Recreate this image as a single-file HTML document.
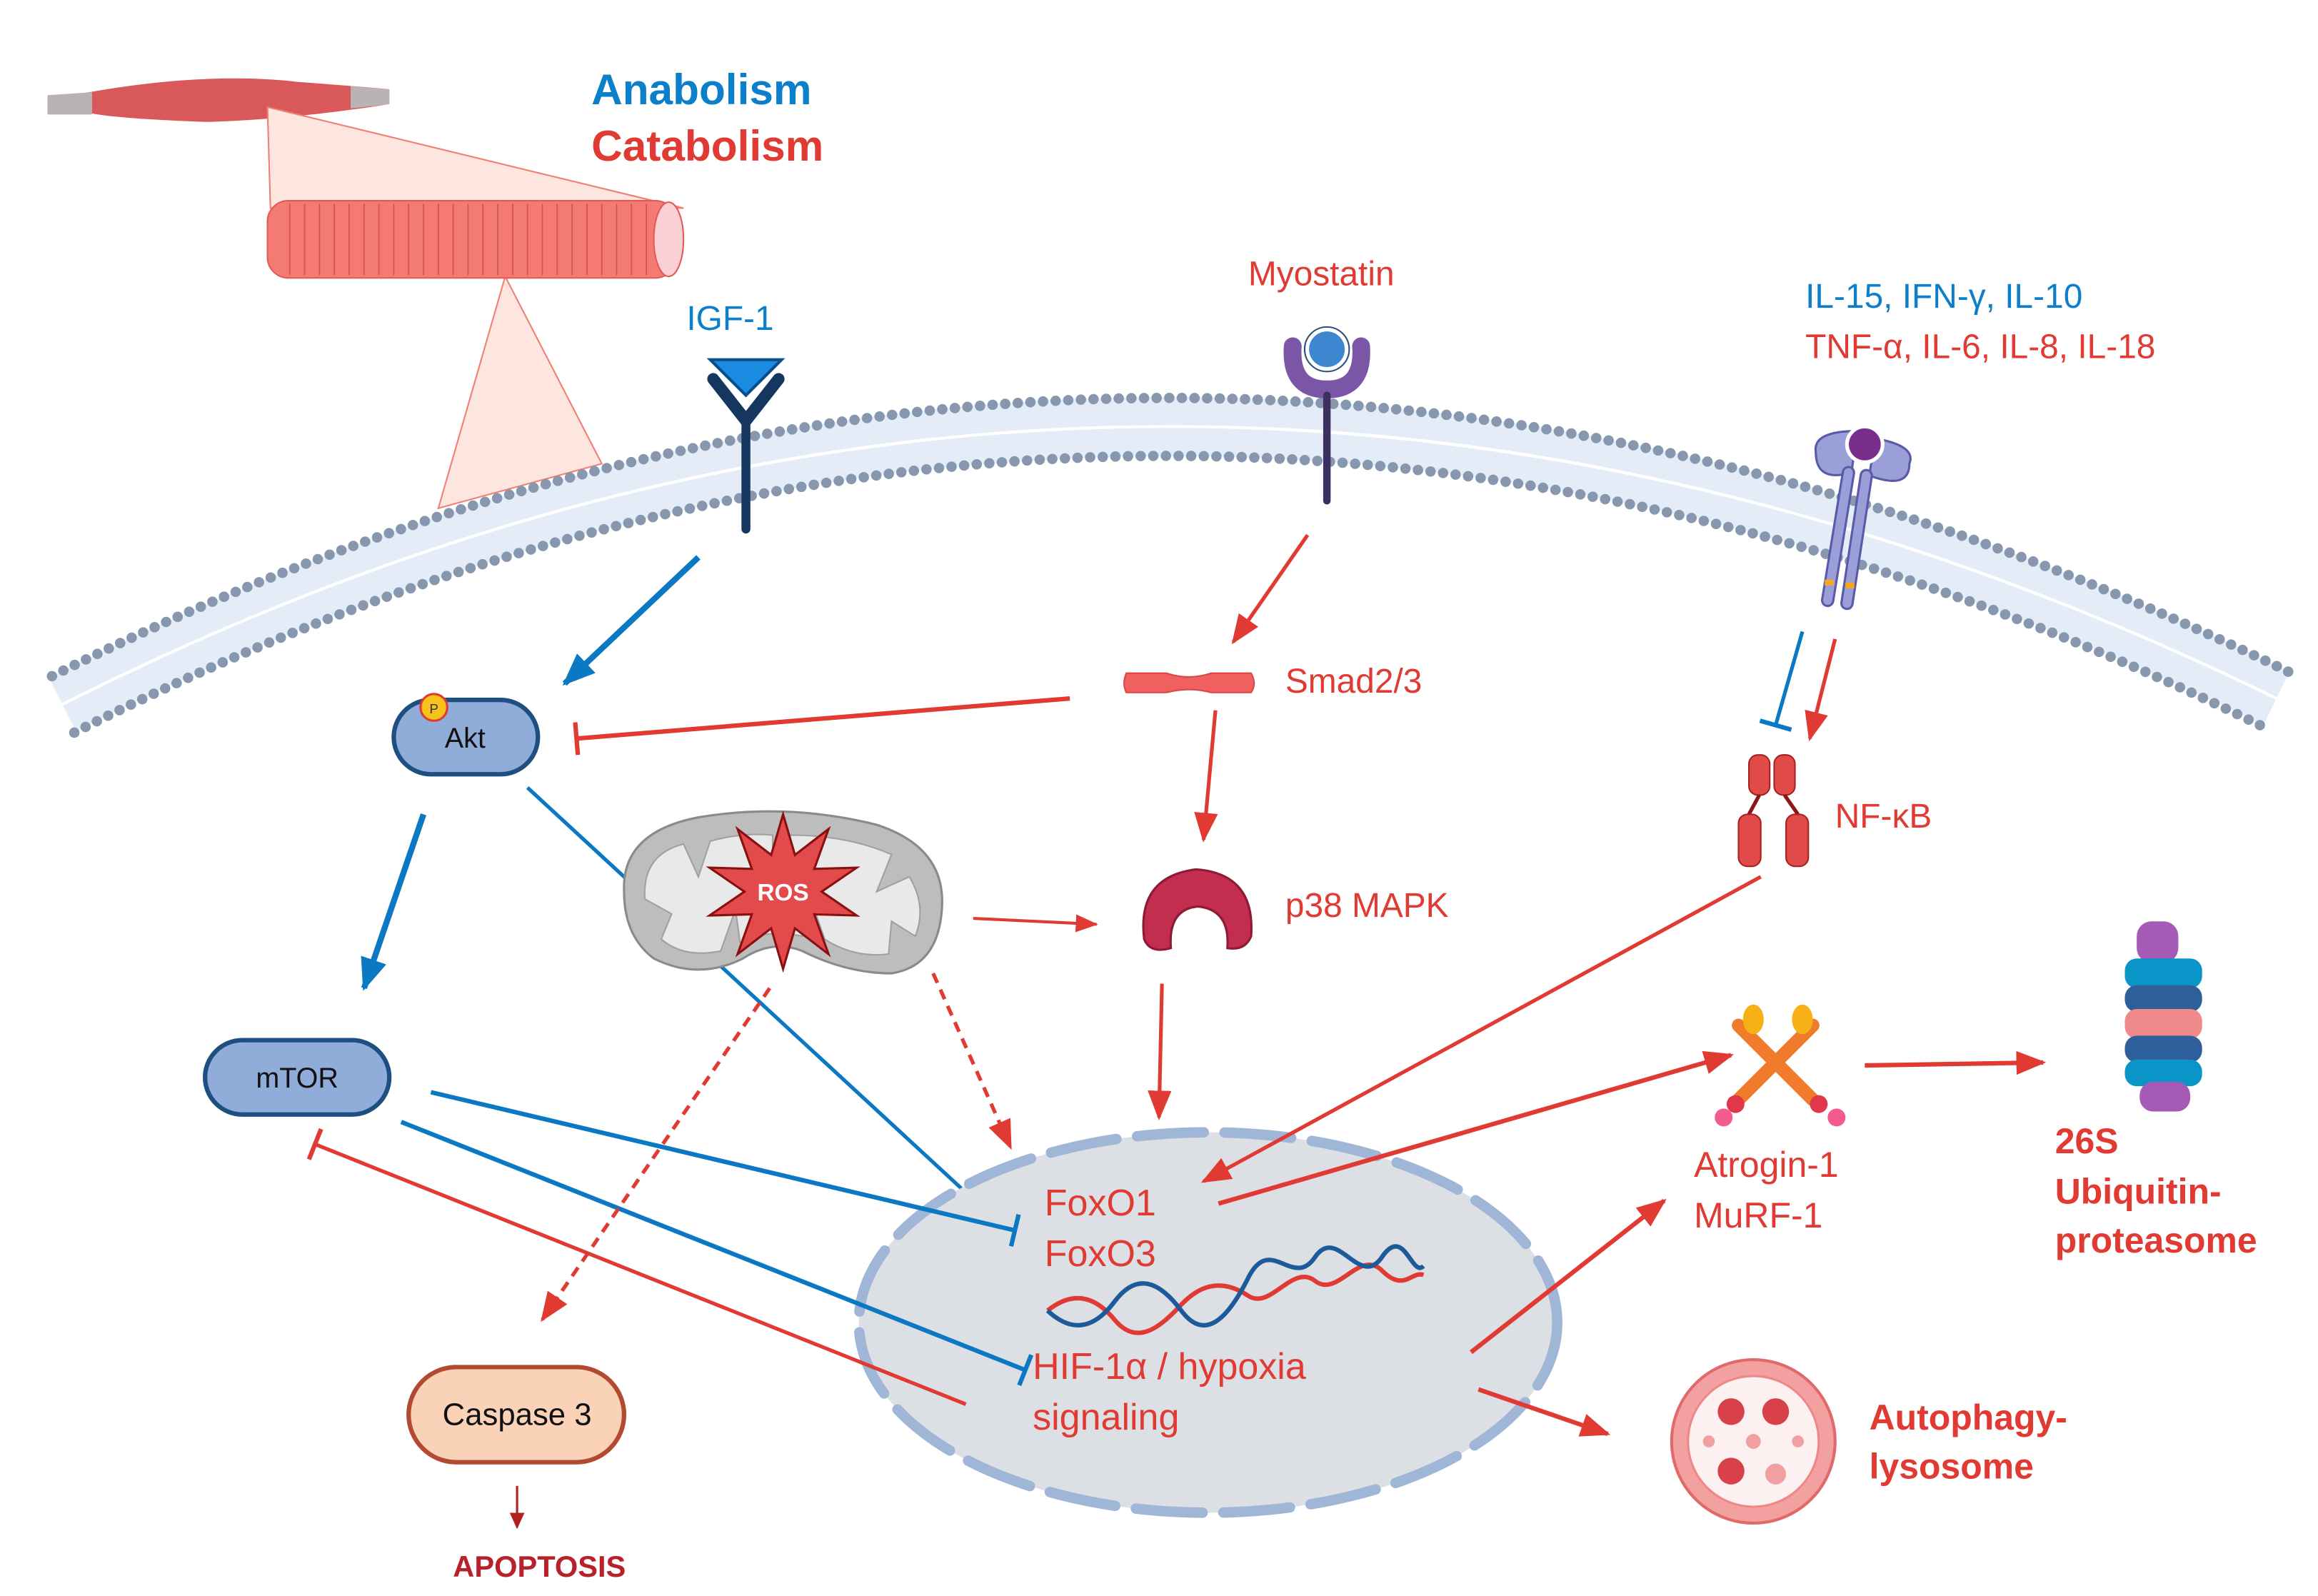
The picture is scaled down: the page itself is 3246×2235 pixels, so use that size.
<!DOCTYPE html>
<html><head><meta charset="utf-8"><style>
html,body{margin:0;padding:0;background:#fff}
svg{display:block}
text{font-family:"Liberation Sans",sans-serif}
</style></head><body>
<svg width="3246" height="2235" viewBox="0 0 1560 1074" xmlns="http://www.w3.org/2000/svg">
<defs>
<marker id="ar" markerUnits="userSpaceOnUse" markerWidth="22" markerHeight="20" refX="18" refY="10" orient="auto"><path d="M0,2 L20,10 L0,18 z" fill="#e03a33"/></marker>
<marker id="ars" markerUnits="userSpaceOnUse" markerWidth="16" markerHeight="14" refX="14" refY="7" orient="auto"><path d="M0,1 L15,7 L0,13 z" fill="#e03a33"/></marker>
<marker id="ab" markerUnits="userSpaceOnUse" markerWidth="24" markerHeight="22" refX="20" refY="11" orient="auto"><path d="M0,2 L22,11 L0,20 z" fill="#0a78c2"/></marker>
<marker id="tb" markerUnits="userSpaceOnUse" markerWidth="6" markerHeight="24" refX="3" refY="12" orient="auto"><path d="M3,1 L3,23" stroke="#0a78c2" stroke-width="3"/></marker>
<marker id="tr" markerUnits="userSpaceOnUse" markerWidth="6" markerHeight="24" refX="3" refY="12" orient="auto"><path d="M3,1 L3,23" stroke="#e03a33" stroke-width="3"/></marker>
<marker id="ad" markerUnits="userSpaceOnUse" markerWidth="12" markerHeight="12" refX="10" refY="6" orient="auto"><path d="M0,1 L11,6 L0,11 z" fill="#b02020"/></marker>
</defs>

<!-- muscle -->
<path d="M32,66 L60,62 Q140,48 200,55 Q240,58 262,60 L262,70 Q200,80 140,82 Q80,80 60,76 L32,76 z" fill="#d9585a"/>
<path d="M32,64 L62,62 L62,77 L32,77 z" fill="#b9b3b3"/>
<path d="M236,58 L262,60 L262,70 L236,73 z" fill="#b9b3b3"/>
<path d="M180,72 L460,140 L182,140 z" fill="#fde5e0" stroke="#f07e72" stroke-width="1"/>
<path d="M340,186 L295,342 L405,312 z" fill="#fde5e0" stroke="#f07e72" stroke-width="1"/>
<rect x="180" y="135" width="275" height="52" rx="14" fill="#f47a74" stroke="#e05a56"/>
<g stroke="#d8514d" stroke-width="0.8">
<path d="M195,137v48M205,137v48M215,137v48M225,137v48M235,137v48M245,137v48M255,137v48M265,137v48M275,137v48M285,137v48M295,137v48M305,137v48M315,137v48M325,137v48M335,137v48M345,137v48M355,137v48M365,137v48M375,137v48M385,137v48M395,137v48M405,137v48M415,137v48M425,137v48M435,137v48"/>
</g>
<ellipse cx="450" cy="161" rx="10" ry="25" fill="#fbd0d5" stroke="#e05a56"/>

<text x="398" y="70" font-size="29" font-weight="bold" fill="#0b7fc9">Anabolism</text>
<text x="398" y="108" font-size="29" font-weight="bold" fill="#e03a33">Catabolism</text>

<!-- membrane -->
<path d="M42,474 Q780,102 1532,470" fill="none" stroke="#e4ecf7" stroke-width="40"/>
<path d="M42,474 Q780,102 1532,470" fill="none" stroke="#fff" stroke-width="2"/>
<path d="M35,455 Q780,82 1540,452" fill="none" stroke="#8797ad" stroke-width="7" stroke-linecap="round" stroke-dasharray="0 8.5"/>
<path d="M50,493 Q780,122 1525,490" fill="none" stroke="#8797ad" stroke-width="7" stroke-linecap="round" stroke-dasharray="0 8.5"/>

<!-- IGF-1 receptor -->
<text x="462" y="222" font-size="23" fill="#0b7fc9">IGF-1</text>
<path d="M478,242 L526,242 L502,266 z" fill="#1a8be0" stroke="#0a4f8a" stroke-width="2"/>
<path d="M480,255 L502,283 L524,255" fill="none" stroke="#15375f" stroke-width="8" stroke-linecap="round"/>
<path d="M502,280 L502,356" stroke="#15375f" stroke-width="6" stroke-linecap="round"/>

<!-- Myostatin receptor -->
<text x="840" y="192" font-size="23" fill="#e03a33">Myostatin</text>
<path d="M870,233 Q868,262 893,262 Q918,262 916,233" fill="none" stroke="#7b56a6" stroke-width="12" stroke-linecap="round"/>
<circle cx="893" cy="235" r="13" fill="#3d86d0" stroke="#fff" stroke-width="2"/>
<circle cx="893" cy="235" r="15" fill="none" stroke="#2b4f7a" stroke-width="1"/>
<path d="M893,266 L893,337" stroke="#3b3060" stroke-width="5" stroke-linecap="round"/>

<!-- cytokine receptor -->
<text x="1215" y="207" font-size="23" fill="#0b7fc9">IL-15, IFN-γ, IL-10</text>
<text x="1215" y="241" font-size="23" fill="#e03a33">TNF-α, IL-6, IL-8, IL-18</text>
<path d="M1222,304 Q1220,290 1250,290 L1246,318 Q1222,325 1222,304 z" fill="#9b9fd8" stroke="#5a5aa8" stroke-width="1.5"/>
<path d="M1285,312 Q1290,300 1262,295 L1258,320 Q1285,330 1285,312 z" fill="#9b9fd8" stroke="#5a5aa8" stroke-width="1.5"/>
<path d="M1244,318 L1230,404" stroke="#5a5aa8" stroke-width="9" stroke-linecap="round"/>
<path d="M1244,318 L1230,404" stroke="#9b9fd8" stroke-width="6" stroke-linecap="round"/>
<path d="M1256,320 L1243,406" stroke="#5a5aa8" stroke-width="9" stroke-linecap="round"/>
<path d="M1256,320 L1243,406" stroke="#9b9fd8" stroke-width="6" stroke-linecap="round"/>
<rect x="1228" y="390" width="6" height="4" fill="#f5a623"/><rect x="1242" y="392" width="6" height="4" fill="#f5a623"/>
<circle cx="1255" cy="299" r="12" fill="#7a2e8c" stroke="#fff" stroke-width="2.5"/>

<!-- arrows top -->
<line x1="470" y1="375" x2="380" y2="460" stroke="#0a78c2" stroke-width="4" marker-end="url(#ab)"/>
<line x1="880" y1="360" x2="830" y2="432" stroke="#e03a33" stroke-width="2.5" marker-end="url(#ar)"/>
<line x1="720" y1="470" x2="388" y2="497" stroke="#e03a33" stroke-width="3" marker-end="url(#tr)"/>
<line x1="1213" y1="425" x2="1195" y2="488" stroke="#0a78c2" stroke-width="2.5" marker-end="url(#tb)"/>
<line x1="1235" y1="430" x2="1218" y2="497" stroke="#e03a33" stroke-width="2.5" marker-end="url(#ar)"/>

<!-- Akt -->
<rect x="265" y="471" width="97" height="50" rx="25" fill="#8fadd8" stroke="#1e4f80" stroke-width="3"/>
<text x="313" y="503" font-size="19" text-anchor="middle" fill="#111">Akt</text>
<circle cx="292" cy="476" r="9" fill="#f8c21c" stroke="#e03a33" stroke-width="1.5"/>
<text x="292" y="480" font-size="9" text-anchor="middle" fill="#333">P</text>

<!-- Smad -->
<path d="M758,453 Q755,460 758,466 L785,466 Q800,462 815,466 L842,466 Q846,460 842,453 L815,453 Q800,458 785,453 z" fill="#f0605e" stroke="#d44"/>
<text x="865" y="466" font-size="23" fill="#e03a33">Smad2/3</text>
<line x1="818" y1="478" x2="810" y2="565" stroke="#e03a33" stroke-width="2.5" marker-end="url(#ar)"/>

<!-- NF-kB -->
<rect x="1177" y="508" width="14" height="27" rx="6" fill="#e04a48" stroke="#a82020"/>
<rect x="1194" y="508" width="14" height="27" rx="6" fill="#e04a48" stroke="#a82020"/>
<path d="M1184,535 L1177,548 M1201,535 L1210,548" stroke="#8a1818" stroke-width="2.5"/>
<rect x="1170" y="548" width="15" height="35" rx="6" fill="#e04a48" stroke="#a82020"/>
<rect x="1202" y="548" width="15" height="35" rx="6" fill="#e04a48" stroke="#a82020"/>
<text x="1235" y="557" font-size="23" fill="#e03a33">NF-κB</text>

<!-- Akt to FoxO (behind mito) -->
<line x1="355" y1="530" x2="683" y2="833" stroke="#0a78c2" stroke-width="2.5" marker-end="url(#tb)"/>

<!-- mito -->
<path d="M420,600 Q418,560 470,550 Q530,540 590,555 Q636,570 634,610 Q632,650 600,655 Q570,655 540,640 Q520,632 500,645 Q470,660 440,645 Q420,630 420,600 z" fill="#bdbdbd" stroke="#8a8a8a" stroke-width="1.5"/>
<path d="M434,605 Q432,575 460,568 L470,590 L478,566 Q500,560 520,562 L520,590 L532,562 Q570,562 600,575 L590,600 L612,590 Q624,610 616,630 L600,620 L598,642 Q575,645 555,632 L548,612 L540,630 Q515,625 498,634 L495,612 L485,640 Q460,645 445,632 L452,615 z" fill="#e9e9e9" stroke="#a0a0a0" stroke-width="1"/>
<polygon points="527,548 535,575.3 557.6,557.9 548,584.7 576.5,583.9 553,600 576.5,616.1 548,615.3 557.6,642.1 535,624.7 527,652 519,624.7 496.4,642.1 506,615.3 477.5,616.1 501,600 477.5,583.9 506,584.7 496.4,557.9 519,575.3" fill="#e24a4c" stroke="#8a1010" stroke-width="1.5"/>
<text x="527" y="606" font-size="16" font-weight="bold" text-anchor="middle" fill="#fff">ROS</text>

<line x1="655" y1="618" x2="738" y2="622" stroke="#e03a33" stroke-width="2" marker-end="url(#ars)"/>

<!-- p38 -->
<path d="M770,632 Q765,590 805,585 Q845,588 842,630 Q838,640 826,638 Q828,612 806,610 Q786,612 788,638 Q774,642 770,632 z" fill="#c32d4e" stroke="#8e1a35" stroke-width="1.5"/>
<text x="865" y="617" font-size="23" fill="#e03a33">p38 MAPK</text>
<line x1="782" y1="662" x2="780" y2="752" stroke="#e03a33" stroke-width="2.5" marker-end="url(#ar)"/>

<!-- mTOR -->
<rect x="138" y="700" width="124" height="50" rx="25" fill="#8fadd8" stroke="#1e4f80" stroke-width="3"/>
<text x="200" y="732" font-size="19" text-anchor="middle" fill="#111">mTOR</text>
<line x1="285" y1="548" x2="245" y2="665" stroke="#0a78c2" stroke-width="4" marker-end="url(#ab)"/>

<!-- nucleus -->
<ellipse cx="813" cy="890" rx="235" ry="128" fill="#dcdfe4"/>
<ellipse cx="813" cy="890" rx="235" ry="128" fill="none" stroke="#9fb6d6" stroke-width="7" stroke-linecap="round" stroke-dasharray="45 14"/>

<!-- lines to nucleus -->
<line x1="290" y1="735" x2="683" y2="828" stroke="#0a78c2" stroke-width="3" marker-end="url(#tb)"/>
<line x1="270" y1="755" x2="690" y2="922" stroke="#0a78c2" stroke-width="3" marker-end="url(#tb)"/>
<line x1="650" y1="945" x2="212" y2="770" stroke="#e03a33" stroke-width="2.5" marker-end="url(#tr)"/>
<line x1="518" y1="665" x2="365" y2="888" stroke="#e03a33" stroke-width="2.5" stroke-dasharray="7 5" marker-end="url(#ar)"/>
<line x1="628" y1="655" x2="680" y2="772" stroke="#e03a33" stroke-width="2.5" stroke-dasharray="7 5" marker-end="url(#ar)"/>
<line x1="1185" y1="590" x2="810" y2="795" stroke="#e03a33" stroke-width="2.5" marker-end="url(#ar)"/>
<line x1="820" y1="810" x2="1165" y2="710" stroke="#e03a33" stroke-width="3" marker-end="url(#ar)"/>
<line x1="990" y1="910" x2="1120" y2="808" stroke="#e03a33" stroke-width="3" marker-end="url(#ar)"/>
<line x1="995" y1="935" x2="1082" y2="965" stroke="#e03a33" stroke-width="3" marker-end="url(#ar)"/>
<line x1="1255" y1="717" x2="1375" y2="715" stroke="#e03a33" stroke-width="3" marker-end="url(#ar)"/>

<text x="703" y="818" font-size="25" fill="#e03a33">FoxO1</text>
<text x="703" y="852" font-size="25" fill="#e03a33">FoxO3</text>
<!-- DNA helix -->
<g fill="none" stroke-width="3" transform="translate(0,10)">
<path d="M705,872 C720,860 735,860 750,878 S780,884 795,868 S825,852 840,862 S870,840 885,852 S915,830 930,845 S950,845 958,848" stroke="#e03a33"/>
<path d="M705,872 C720,886 735,886 750,866 S780,852 795,872 S825,880 840,850 S870,858 885,836 S915,858 930,836 S950,850 958,842" stroke="#1d5a9a"/>
</g>
<text x="695" y="928" font-size="25" fill="#e03a33">HIF-1α / hypoxia</text>
<text x="695" y="962" font-size="25" fill="#e03a33">signaling</text>

<!-- caspase -->
<rect x="275" y="920" width="145" height="64" rx="32" fill="#f9d2b8" stroke="#b24a32" stroke-width="3"/>
<text x="348" y="959" font-size="21" text-anchor="middle" fill="#111">Caspase 3</text>
<line x1="348" y1="1000" x2="348" y2="1028" stroke="#b02020" stroke-width="1.5" marker-end="url(#ad)"/>
<text x="363" y="1061" font-size="20" font-weight="bold" text-anchor="middle" fill="#b8202a">APOPTOSIS</text>

<!-- atrogin -->
<path d="M1170,690 L1220,740 M1220,690 L1170,740" stroke="#f07b2a" stroke-width="9" stroke-linecap="round"/>
<ellipse cx="1180" cy="686" rx="7" ry="10" fill="#f7b117"/><ellipse cx="1213" cy="686" rx="7" ry="10" fill="#f7b117"/>
<circle cx="1168" cy="743" r="6" fill="#e0384a"/><circle cx="1224" cy="743" r="6" fill="#e0384a"/>
<circle cx="1160" cy="752" r="6" fill="#f25a90"/><circle cx="1236" cy="752" r="6" fill="#f25a90"/>
<text x="1140" y="792" font-size="24" fill="#e03a33">Atrogin-1</text>
<text x="1140" y="826" font-size="24" fill="#e03a33">MuRF-1</text>

<!-- proteasome -->
<g>
<rect x="1438" y="620" width="28" height="28" rx="10" fill="#a55bb5"/>
<rect x="1430" y="645" width="52" height="20" rx="8" fill="#0a95c8"/>
<rect x="1430" y="663" width="52" height="18" rx="8" fill="#2f5f9a"/>
<rect x="1430" y="679" width="52" height="20" rx="8" fill="#f08a8a"/>
<rect x="1430" y="697" width="52" height="18" rx="8" fill="#2f5f9a"/>
<rect x="1430" y="713" width="52" height="18" rx="8" fill="#0a95c8"/>
<rect x="1440" y="728" width="34" height="20" rx="9" fill="#a55bb5"/>
</g>
<text x="1383" y="776" font-size="24" font-weight="bold" fill="#e03a33">26S</text>
<text x="1383" y="810" font-size="24" font-weight="bold" fill="#e03a33">Ubiquitin-</text>
<text x="1383" y="843" font-size="24" font-weight="bold" fill="#e03a33">proteasome</text>

<!-- lysosome -->
<circle cx="1180" cy="970" r="55" fill="#f2a0a0" stroke="#e06a6a" stroke-width="2"/>
<circle cx="1180" cy="970" r="44" fill="#fdf0f0" stroke="#e88" stroke-width="1.5"/>
<circle cx="1165" cy="950" r="9" fill="#d8404a"/><circle cx="1195" cy="950" r="9" fill="#d8404a"/>
<circle cx="1165" cy="990" r="9" fill="#d8404a"/><circle cx="1195" cy="992" r="7" fill="#f0a0a0"/>
<circle cx="1180" cy="970" r="5" fill="#f0a0a0"/><circle cx="1150" cy="970" r="4" fill="#f0a0a0"/><circle cx="1210" cy="970" r="4" fill="#f0a0a0"/>
<text x="1258" y="962" font-size="24" font-weight="bold" fill="#e03a33">Autophagy-</text>
<text x="1258" y="995" font-size="24" font-weight="bold" fill="#e03a33">lysosome</text>
</svg>
</body></html>
